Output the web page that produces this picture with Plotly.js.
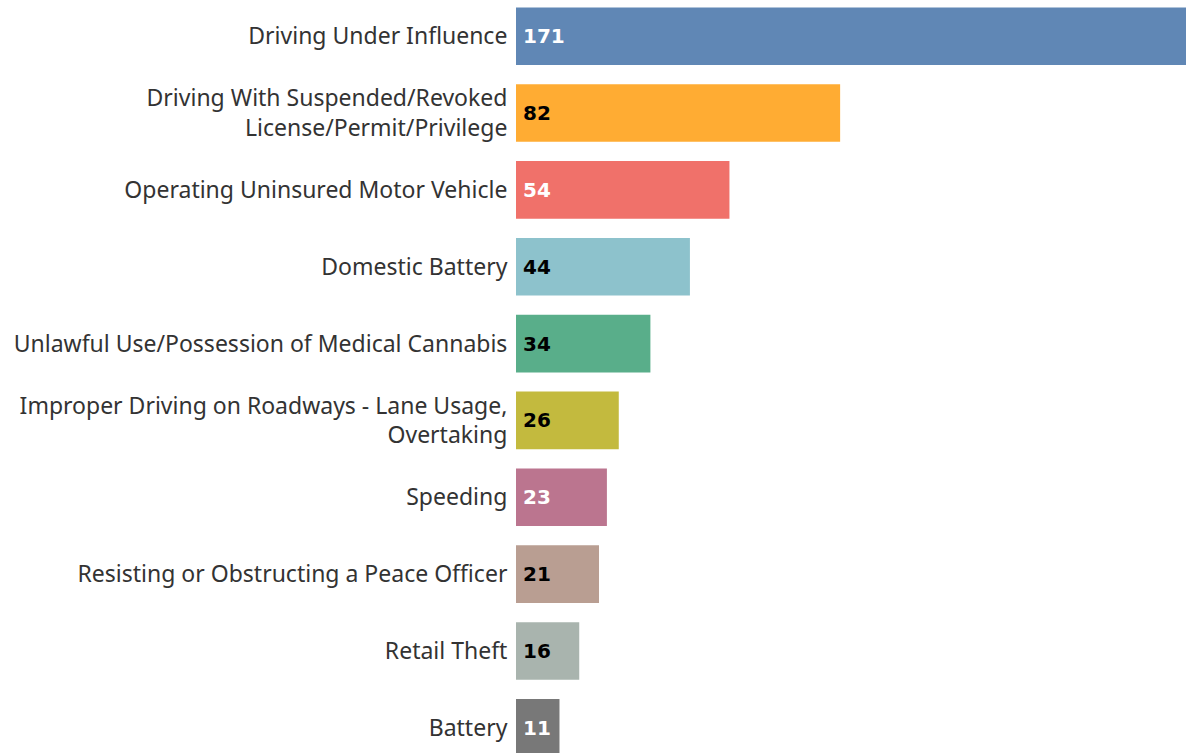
<!DOCTYPE html>
<html><head><meta charset="utf-8">
<script src="https://cdn.plot.ly/plotly-3.0.1.min.js"></script>
<style>html,body{margin:0;padding:0;background:#fff;}#chart{width:1186px;height:753px;}</style>
</head><body><div id="chart"></div>
<script>
const categories = [
  "Driving Under Influence",
  "Driving With Suspended/Revoked<br>License/Permit/Privilege",
  "Operating Uninsured Motor Vehicle",
  "Domestic Battery",
  "Unlawful Use/Possession of Medical Cannabis",
  "Improper Driving on Roadways - Lane Usage,<br>Overtaking",
  "Speeding",
  "Resisting or Obstructing a Peace Officer",
  "Retail Theft",
  "Battery"
];
const counts = [171, 82, 54, 44, 34, 26, 23, 21, 16, 11];
const barColors = ["#6087b5","#ffac33","#f0716a","#8dc2cc","#59ae8a","#c3ba3e","#bb758f","#b99e92","#a9b4ae","#787878"];
const labelColors = ["#ffffff","#000000","#ffffff","#000000","#000000","#000000","#ffffff","#000000","#000000","#ffffff"];

const trace = {
  type: 'bar',
  orientation: 'h',
  y: categories,
  x: counts,
  width: 0.75,
  marker: {color: barColors, line: {width: 0}},
  text: counts.map(v => '\u2009' + v),
  textposition: 'inside',
  insidetextanchor: 'start',
  textangle: 0,
  constraintext: 'none',
  insidetextfont: {family: 'DejaVu Sans', size: 20, color: labelColors, weight: 'bold'},
  cliponaxis: true,
  hoverinfo: 'none'
};

const layout = {
  width: 1186, height: 753,
  margin: {l: 516, r: 0, t: 0, b: 0, pad: 0},
  paper_bgcolor: '#ffffff', plot_bgcolor: '#ffffff',
  showlegend: false,
  xaxis: {range: [0, 169.5], visible: false, fixedrange: true},
  yaxis: {
    type: 'category',
    range: [9.328, -0.471],
    showgrid: false, zeroline: false, showline: false,
    ticks: 'outside', ticklen: 3, tickcolor: 'rgba(0,0,0,0)',
    tickfont: {family: 'Noto Sans', size: 23, color: '#333333'},
    automargin: false
  }
};
Plotly.newPlot('chart', [trace], layout, {staticPlot: true, displayModeBar: false});
</script></body></html>
